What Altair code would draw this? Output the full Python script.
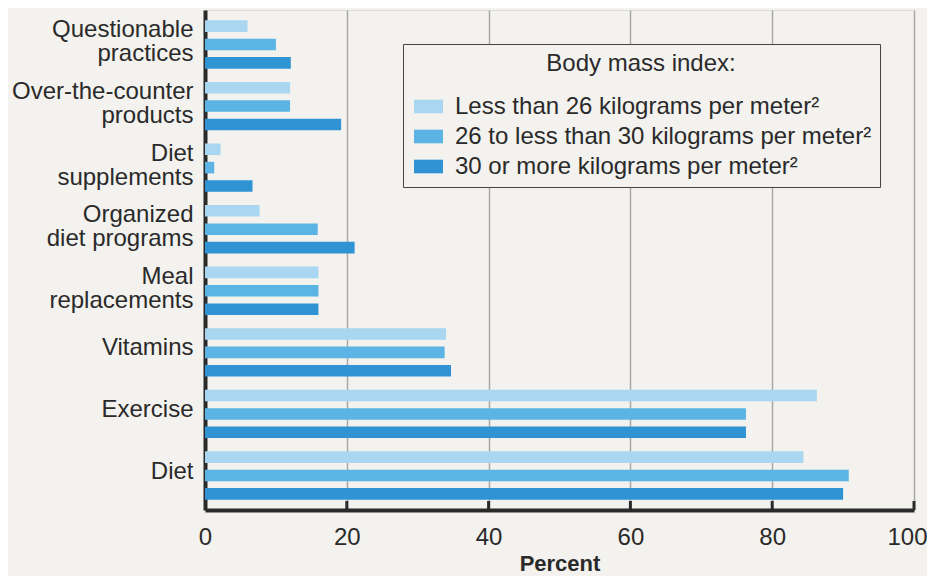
import altair as alt
import pandas as pd

categories = [
    "Questionable|practices",
    "Over-the-counter|products",
    "Diet|supplements",
    "Organized|diet programs",
    "Meal|replacements",
    "Vitamins",
    "Exercise",
    "Diet",
]
series_names = [
    "Less than 26 kilograms per meter²",
    "26 to less than 30 kilograms per meter²",
    "30 or more kilograms per meter²",
]
less_than_26 = [6.0, 12.0, 2.2, 7.7, 16.0, 34.0, 86.3, 84.4]
from_26_to_30 = [10.0, 12.0, 1.3, 15.9, 16.0, 33.8, 76.3, 90.8]
over_30 = [12.1, 19.2, 6.7, 21.1, 16.0, 34.7, 76.3, 90.0]
colors = ["#a9d6f0", "#5cb4e4", "#2f93d4"]
x_ticks = [0, 20, 40, 60, 80, 100]

rows = []
for name, vals in zip(series_names, [less_than_26, from_26_to_30, over_30]):
    for c, v in zip(categories, vals):
        rows.append({"category": c, "bmi": name, "percent": v})
df = pd.DataFrame(rows)
ticks_df = pd.DataFrame({"t": x_ticks[1:]})

BG = "#f3f2ee"
FONT = "Liberation Sans"
INK = "#2a2a2a"
W, H = 709, 500
FS = 24

bars = alt.Chart(df).mark_bar().encode(
    x=alt.X(
        "percent:Q",
        scale=alt.Scale(domain=[0, 100], nice=False),
        axis=alt.Axis(
            values=x_ticks,
            title="Percent",
            titleFontWeight="bold",
            titleFontSize=22,
            titleColor=INK,
            titlePadding=4,
            labelFontSize=FS,
            labelColor=INK,
            labelPadding=15,
            labelFlush=False,
            labelAlign={
                "condition": {"test": "datum.value == 100", "value": "right"},
                "value": "center",
            },
            labelOffset={
                "condition": {"test": "datum.value == 100", "value": 13},
                "value": 0,
            },
            ticks=False,
            domainColor=INK,
            domainWidth=4,
            grid=True,
            gridColor="#a8a8a8",
            gridWidth=1.5,
        ),
    ),
    y=alt.Y(
        "category:N",
        sort=categories,
        scale=alt.Scale(paddingInner=0, paddingOuter=0.06),
        axis=alt.Axis(
            title=None,
            labelExpr="split(datum.value, '|')",
            labelFontSize=FS,
            labelLineHeight=24,
            labelLimit=0,
            labelColor=INK,
            labelPadding=12,
            labelOffset={
                "condition": {"test": "indexof(datum.value, '|') >= 0", "value": -14},
                "value": -4,
            },
            ticks=False,
            domainColor=INK,
            domainWidth=4,
            grid=False,
        ),
    ),
    yOffset=alt.YOffset(
        "bmi:N",
        sort=series_names,
        scale=alt.Scale(paddingInner=0.37, paddingOuter=0.36),
    ),
    color=alt.Color(
        "bmi:N",
        sort=series_names,
        scale=alt.Scale(domain=series_names, range=colors),
        legend=alt.Legend(
            title="Body mass index:",
            orient="none",
            legendX=198,
            legendY=34,
            titleFontSize=FS,
            titleFontWeight="normal",
            titleColor=INK,
            titleLimit=0,
            titleAnchor="middle",
            titleAlign="center",
            titlePadding=16,
            labelFontSize=FS,
            labelColor=INK,
            labelLimit=0,
            labelOffset=12,
            symbolType="M-1,-0.47H1V0.47H-1Z",
            symbolSize=841,
            symbolStrokeWidth=0,
            symbolOpacity=1,
            symbolOffset=3,
            rowPadding=3,
            padding=8,
            strokeColor="#444444",
            fillColor=BG,
        ),
    ),
)

tick_marks = alt.Chart(ticks_df).mark_rule(color=INK, strokeWidth=3).encode(
    x=alt.X("t:Q"),
    y=alt.value(H - 9),
    y2=alt.value(H),
)

chart = (
    alt.layer(bars, tick_marks)
    .properties(
        width=W,
        height=H,
        background=BG,
        autosize=alt.AutoSizeParams(type="none"),
        padding={"left": 197, "top": 2, "right": 13, "bottom": 66},
    )
    .configure_view(stroke="#a8a8a8", strokeWidth=1.5)
    .configure(font=FONT)
)

chart.save("out.html", embed_options={"renderer": "svg", "actions": False})
